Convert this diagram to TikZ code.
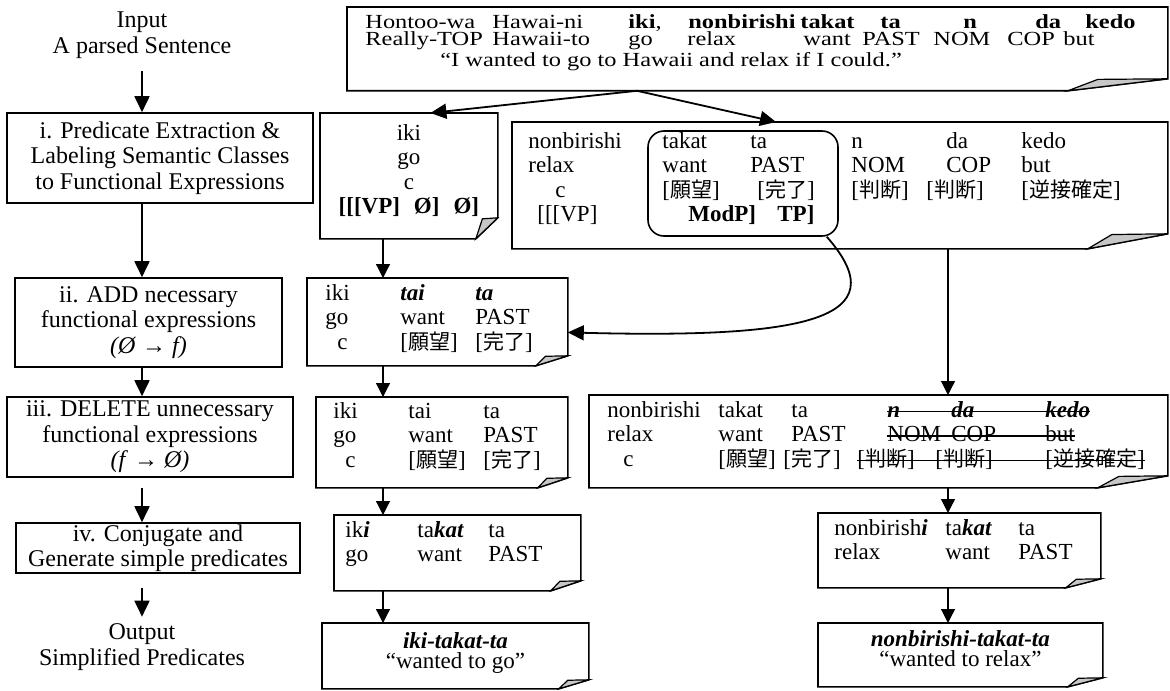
\documentclass[tikz,border=0pt]{standalone}
\usepackage{fontspec}
\setmainfont{Liberation Serif}
\newfontfamily\jp{Noto Sans CJK JP}
\newfontfamily\sentserif{Liberation Serif}[FakeStretch=1.22]
\usetikzlibrary{arrows.meta,calc}

\newcommand\stepfont{\fontsize{12pt}{12.75pt}\selectfont}
\newcommand\exfont{\fontsize{11.5pt}{12.2pt}\selectfont}
\newcommand\sentfont{\sentserif\fontsize{10pt}{8.75pt}\selectfont}
\newcommand\cel[2]{\makebox[#1pt][l]{#2}}
\newcommand\jbr[1]{[{\jp\fontsize{10.5pt}{10.5pt}\selectfont #1}]}
\newcommand\bi[1]{\textbf{\textit{#1}}}
\newsavebox\strikebox
\newcommand\strike[1]{\sbox\strikebox{#1}\rlap{\rule[0.23em]{\wd\strikebox}{0.7pt}}\usebox\strikebox}

\tikzset{
  stage/.style={draw, line width=0.8pt, align=center, inner sep=0pt, font=\stepfont},
  ex/.style={anchor=north west, inner sep=0pt, font=\exfont},
  boxline/.style={line width=0.8pt},
  flapfill/.style={fill=black!22, line width=0.6pt},
  flow/.style={-{Triangle[length=8pt,width=7.5pt]}, line width=0.9pt},
  thinflow/.style={-{Triangle[length=7pt,width=7pt]}, line width=0.6pt},
}

% frame with a folded bottom right corner
\newcommand\foldframe[3]{%
  \draw[boxline] (#1.north west) -- (#1.north east) -- ([shift={(0,-#3)}]#1.south east)
    -- ([shift={(-#2,0)}]#1.south east) -- (#1.south west) -- cycle;
  \filldraw[flapfill] ([shift={(-#2,0)}]#1.south east) -- ([shift={(-0.7*#2,-0.95*#3)}]#1.south east)
    -- ([shift={(0,-#3)}]#1.south east) -- cycle;
}

\begin{document}
\begin{tikzpicture}[x=0.5pt,y=-0.5pt]
\useasboundingbox (0,0) rectangle (1170,690);

% steps
\node[align=center, font=\stepfont] (inp) at (142,35) {Input\\A parsed Sentence};
\node[stage, minimum width=153pt, minimum height=45pt] (stepi) at (160,158)
  {i. Predicate Extraction \&\\Labeling Semantic Classes\\to Functional Expressions};
\node[stage, minimum width=133.5pt, minimum height=44.5pt] (stepii) at (148.5,322.5)
  {ii. ADD necessary\\functional expressions\\\textit{(Ø} → \textit{f)}};
\node[stage, minimum width=143pt, minimum height=40pt] (stepiii) at (150,437)
  {iii. DELETE unnecessary\\functional expressions\\\textit{(f} → \textit{Ø)}};
\node[stage, minimum width=142pt, minimum height=25pt] (stepiv) at (158,548)
  {iv. Conjugate and\\Generate simple predicates};
\node[align=center, font=\stepfont] (outp) at (142,647) {Output\\Simplified Predicates};

\draw[flow, shorten <=3pt] (inp.south) -- (inp.south |- stepi.north);
\draw[flow] (stepi.south -| inp) -- (stepii.north -| inp);
\draw[flow] (stepii.south -| inp) -- (stepiii.north -| inp);
\draw[flow, shorten <=5pt] (stepiii.south -| inp) -- (stepiv.north -| inp);
\draw[flow, shorten <=7pt] (stepiv.south -| inp) -- (outp.north);

% the sentence
\node[ex, font=\sentfont] (sent) at (347,7) {\begin{minipage}[t][41.5pt][t]{410pt}
\rule{0pt}{10.5pt}\hspace*{9pt}\cel{63.5}{Hontoo-wa}\cel{68}{Hawai-ni}\cel{30}{\textbf{iki},}\cel{56}{\textbf{nonbirishi}}\cel{40}{\textbf{takat}}\cel{41.5}{\textbf{ta}}\cel{36}{\textbf{n}}\cel{25}{\textbf{da}}\textbf{kedo}\\
\hspace*{9pt}\cel{63.5}{Really-TOP}\cel{68}{Hawaii-to}\cel{29.5}{go}\cel{58}{relax}\cel{29.5}{want}\cel{35.5}{PAST}\cel{37}{NOM}\cel{28}{COP}but\\
\hspace*{46.5pt}“I wanted to go to Hawaii and relax if I could.”
\end{minipage}};

% iki branch
\node[ex] (ikiA) at (320,113) {\begin{minipage}[t][62.5pt][t]{88.5pt}\centering
\rule{0pt}{13.5pt}iki\\go\\c\\\textbf{[[[VP]\hspace{7pt}Ø]\hspace{7pt}Ø]}
\end{minipage}};
\node[ex] (ikiB) at (307,278) {\begin{minipage}[t][43.5pt][t]{130pt}
\rule{0pt}{11pt}\hspace*{9pt}\cel{37.5}{iki}\cel{37.5}{\bi{tai}}\bi{ta}\\
\hspace*{9pt}\cel{37.5}{go}\cel{37.5}{want}PAST\\
\hspace*{15pt}\cel{31.5}{c}\cel{37.5}{\jbr{願望}}\jbr{完了}
\end{minipage}};
\node[ex] (ikiC) at (316,397) {\begin{minipage}[t][45pt][t]{125.5pt}
\rule{0pt}{10.5pt}\hspace*{8.5pt}\cel{37.5}{iki}\cel{37.5}{tai}ta\\
\hspace*{8.5pt}\cel{37.5}{go}\cel{37.5}{want}PAST\\
\hspace*{14.5pt}\cel{31.5}{c}\cel{37.5}{\jbr{願望}}\jbr{完了}
\end{minipage}};
\node[ex] (ikiD) at (334,515) {\begin{minipage}[t][37.5pt][t]{123pt}
\rule{0pt}{11pt}\hspace*{5.5pt}\cel{36}{ik\bi{i}}\cel{35.5}{ta\bi{kat}}ta\\
\hspace*{5.5pt}\cel{36}{go}\cel{35.5}{want}PAST
\end{minipage}};
\node[ex] (ikiE) at (322,623) {\begin{minipage}[t][32.5pt][t]{133pt}\centering\fontsize{11.5pt}{10pt}\selectfont
\rule{0pt}{12.5pt}\bi{iki-takat-ta}\\“wanted to go”
\end{minipage}};

% nonbirishi branch
\node[ex] (nonA) at (512,122) {\begin{minipage}[t][63pt][t]{327.5pt}
\rule{0pt}{13pt}\hspace*{8pt}\cel{67}{nonbirishi}\cel{44}{takat}\cel{50.5}{ta}\cel{47.5}{n}\cel{37.5}{da}kedo\\
\hspace*{8pt}\cel{67}{relax}\cel{44}{want}\cel{50.5}{PAST}\cel{47.5}{NOM}\cel{37.5}{COP}but\\
\hspace*{21.5pt}\cel{53.5}{c}\cel{47.5}{\jbr{願望}}\cel{47}{\jbr{完了}}\cel{37.5}{\jbr{判断}}\cel{47.5}{\jbr{判断}}\jbr{逆接確定}\\
\hspace*{12.5pt}\cel{75.5}{[[[VP]}\cel{44.5}{\textbf{ModP]}}\textbf{TP]}
\end{minipage}};
\node[draw, line width=0.8pt, rounded corners=8pt, inner sep=0pt,
  minimum width=95pt, minimum height=52.5pt] (grp) at (743,183.5) {};
\node[ex] (nonC) at (589,395) {\begin{minipage}[t][46pt][t]{289pt}
\rule{0pt}{11pt}\hspace*{9pt}\cel{55.5}{nonbirishi}\cel{36.5}{takat}\cel{48}{ta}\strike{\cel{32}{\bi{n}}\cel{47}{\bi{da}}\bi{kedo}}\\
\hspace*{9pt}\cel{55.5}{relax}\cel{36.5}{want}\cel{48}{PAST}\strike{\cel{32}{NOM}\cel{47}{COP}but}\\
\hspace*{17pt}\cel{47.5}{c}\cel{32.5}{\jbr{願望}}\cel{37}{\jbr{完了}}\strike{\cel{39}{\jbr{判断}}\cel{55}{\jbr{判断}}\jbr{逆接確定}}
\end{minipage}};
\node[ex] (nonD) at (818,513) {\begin{minipage}[t][37pt][t]{141pt}
\rule{0pt}{11pt}\hspace*{8pt}\cel{55.5}{nonbirish\bi{i}}\cel{36.5}{ta\bi{kat}}ta\\
\hspace*{8pt}\cel{55.5}{relax}\cel{36.5}{want}PAST
\end{minipage}};
\node[ex] (nonE) at (818,623) {\begin{minipage}[t][31.5pt][t]{142pt}\centering\fontsize{11.5pt}{10pt}\selectfont
\rule{0pt}{11.5pt}\bi{nonbirishi-takat-ta}\\“wanted to relax”
\end{minipage}};

\foldframe{sent}{100}{12}
\foldframe{nonA}{80}{15}
\foldframe{ikiA}{22}{21}
\foldframe{ikiB}{32}{10}
\foldframe{ikiC}{30}{10}
\foldframe{ikiD}{30}{10}
\foldframe{ikiE}{30}{9}
\foldframe{nonC}{70}{12}
\foldframe{nonD}{35}{9}
\foldframe{nonE}{35}{9}

% connectors
\coordinate (midcol) at (383,0);
\coordinate (rightcol) at (948,0);
\coordinate (split) at ($(sent.south west)+(290,0)$);
\draw[flow] (split) -- ($(ikiA.north)+(21.5,0)$);
\draw[flow] (split) -- ($(nonA.north west)+(264,0)$);
\draw[thinflow] (ikiA.south -| midcol) -- (ikiB.north -| midcol);
\draw[thinflow] (ikiB.south -| midcol) -- (ikiC.north -| midcol);
\draw[thinflow] (ikiC.south -| midcol) -- (ikiD.north -| midcol);
\draw[thinflow] (ikiD.south -| midcol) -- (ikiE.north -| midcol);
\draw[thinflow] (nonA.south -| rightcol) -- (nonC.north -| rightcol);
\draw[thinflow] (nonC.south -| rightcol) -- (nonD.north -| rightcol);
\draw[thinflow] (nonD.south -| rightcol) -- (nonE.north -| rightcol);
\draw[flow] ($(grp.south east)+(-12,0)$) .. controls +(74,84) and +(232,6) .. ($(ikiB.east)+(0,10.5)$);
\end{tikzpicture}
\end{document}
